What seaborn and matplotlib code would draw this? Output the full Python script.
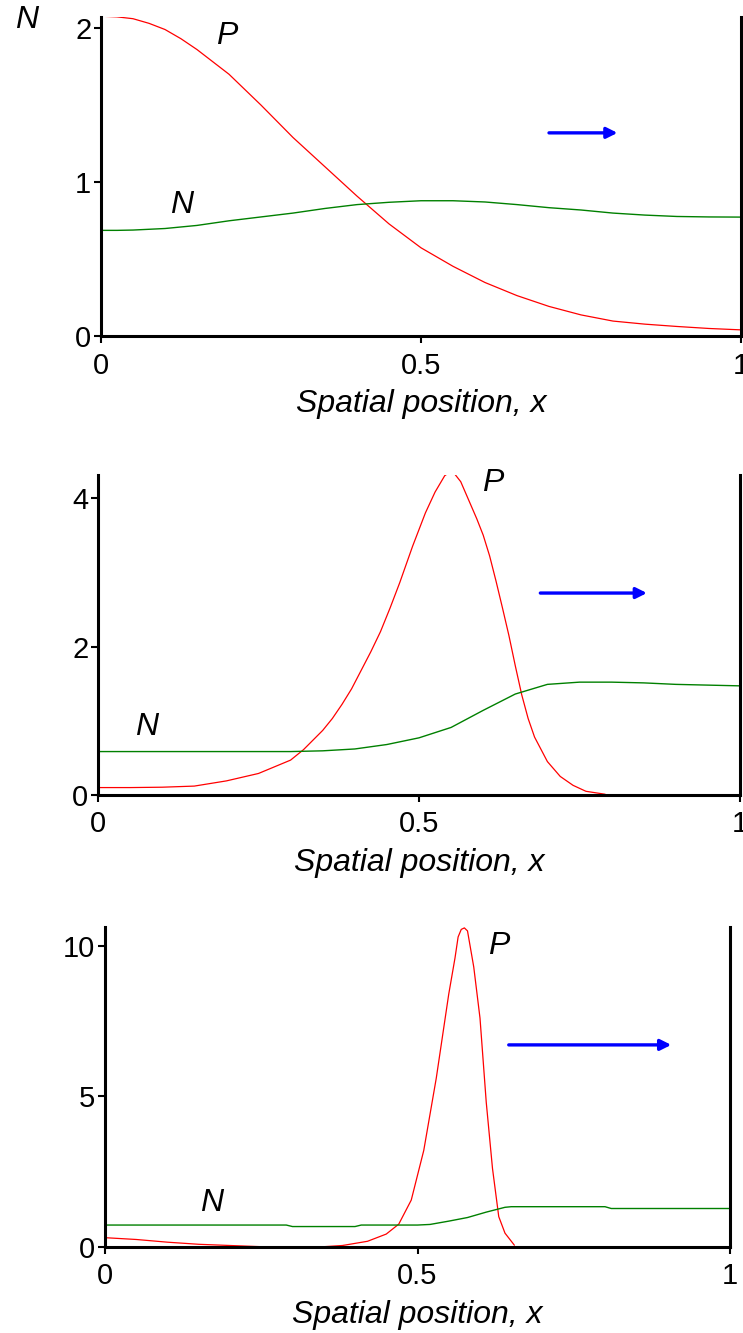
import numpy as np
import pandas as pd
import matplotlib
matplotlib.use('Agg')
import matplotlib.pyplot as plt
import seaborn as sns

# panel 1: early profile
x1 = [0, 0.025, 0.05, 0.075, 0.1, 0.125, 0.15, 0.2, 0.25, 0.3, 0.35, 0.4, 0.45,
      0.5, 0.55, 0.6, 0.65, 0.7, 0.75, 0.8, 0.85, 0.9, 0.95, 1.0]
p1 = [2.076, 2.072, 2.06, 2.03, 1.99, 1.93, 1.86, 1.70, 1.50, 1.29, 1.10, 0.91,
      0.73, 0.575, 0.455, 0.35, 0.265, 0.195, 0.14, 0.10, 0.08, 0.065, 0.052, 0.043]
n1 = [0.688, 0.688, 0.69, 0.695, 0.70, 0.71, 0.72, 0.75, 0.775, 0.80, 0.83,
      0.855, 0.87, 0.88, 0.88, 0.872, 0.855, 0.835, 0.82, 0.80, 0.787, 0.778,
      0.775, 0.774]

# panel 2
xp2 = [0, 0.05, 0.1, 0.15, 0.2, 0.25, 0.3, 0.32, 0.35, 0.365, 0.38, 0.395, 0.41,
       0.425, 0.44, 0.455, 0.47, 0.49, 0.51, 0.525, 0.54, 0.548, 0.555, 0.565,
       0.575, 0.59, 0.6, 0.61, 0.62, 0.63, 0.64, 0.65, 0.66, 0.67, 0.68, 0.7,
       0.72, 0.74, 0.76, 0.79]
p2 = [0.10, 0.10, 0.105, 0.12, 0.19, 0.29, 0.47, 0.61, 0.87, 1.03, 1.22, 1.43,
      1.68, 1.93, 2.20, 2.52, 2.86, 3.35, 3.8, 4.08, 4.3, 4.35, 4.33, 4.22,
      4.02, 3.72, 3.5, 3.22, 2.88, 2.52, 2.15, 1.74, 1.35, 1.03, 0.78, 0.45,
      0.25, 0.13, 0.05, 0.01]
xn2 = [0, 0.1, 0.2, 0.3, 0.35, 0.4, 0.45, 0.5, 0.55, 0.6, 0.65, 0.7, 0.75,
       0.8, 0.85, 0.9, 0.95, 1.0]
n2 = [0.585, 0.585, 0.585, 0.585, 0.595, 0.62, 0.68, 0.77, 0.91, 1.14, 1.36,
      1.49, 1.52, 1.52, 1.51, 1.49, 1.48, 1.47]

# panel 3
xp3 = [0, 0.05, 0.1, 0.15, 0.2, 0.25, 0.3, 0.35, 0.38, 0.42, 0.45, 0.47, 0.49,
       0.51, 0.53, 0.55, 0.56, 0.565, 0.57, 0.575, 0.58, 0.59, 0.6, 0.61, 0.62,
       0.63, 0.64, 0.655]
p3 = [0.30, 0.24, 0.15, 0.08, 0.04, 0.0, 0.0, 0.0, 0.04, 0.18, 0.42, 0.75, 1.55,
      3.2, 5.6, 8.4, 9.6, 10.3, 10.55, 10.6, 10.5, 9.3, 7.6, 4.8, 2.6, 1.0,
      0.45, 0.05]
xn3 = [0, 0.1, 0.2, 0.29, 0.3, 0.4, 0.41, 0.5, 0.52, 0.55, 0.58, 0.61, 0.64,
       0.65, 0.8, 0.81, 1.0]
n3 = [0.72, 0.72, 0.72, 0.72, 0.67, 0.67, 0.72, 0.72, 0.74, 0.85, 0.97, 1.15,
      1.31, 1.33, 1.33, 1.27, 1.27]

yticks = [[0, 1, 2], [0, 2, 4], [0, 5, 10]]
ytop = [2.073, 4.31, 10.64]
label_pos = [((0.196, 1.95), (0.126, 0.85)),
             ((0.615, 4.2), (0.076, 0.92)),
             ((0.63, 10.0), (0.17, 1.44))]
arrows = [(0.70, 0.807, 1.32), (0.689, 0.855, 2.72), (0.646, 0.906, 6.71)]

W, H = 743, 1333
# axes boxes in pixels: left, right, top, bottom
boxes = [(101, 741, 16.7, 336.5), (98, 740, 475, 795), (105, 730, 926.7, 1246.7)]

sns.set_style('ticks')
plt.rcParams['font.family'] = ['Liberation Sans', 'DejaVu Sans']
plt.rcParams['text.color'] = 'black'
plt.rcParams['axes.labelcolor'] = 'black'
plt.rcParams['xtick.color'] = 'black'
plt.rcParams['ytick.color'] = 'black'

fig = plt.figure(figsize=(W / 100, H / 100), dpi=100)

panels = [(x1, p1, x1, n1), (xp2, p2, xn2, n2), (xp3, p3, xn3, n3)]

for i, (xp, p, xn, n) in enumerate(panels):
    l, r, t, b = boxes[i]
    ax = fig.add_axes([l / W, 1 - b / H, (r - l) / W, (b - t) / H])
    sns.lineplot(x=xp, y=p, ax=ax, color='#ff0000', lw=0.9, sort=False)
    sns.lineplot(x=xn, y=n, ax=ax, color='#008000', lw=1.0, sort=False)
    ax.set_xlim(0, 1)
    ax.set_ylim(0, ytop[i])
    ax.set_xticks([0, 0.5, 1])
    ax.set_xticklabels(['0', '0.5', '1'])
    ax.set_yticks(yticks[i])
    ax.set_yticklabels([str(v) for v in yticks[i]])
    ax.tick_params(axis='both', length=5, width=1.5, labelsize=21,
                   colors='black', labelcolor='black')
    ax.tick_params(axis='x', pad=6)
    ax.tick_params(axis='y', pad=2)
    ax.spines['top'].set_visible(False)
    for s in ['left', 'right', 'bottom']:
        ax.spines[s].set_linewidth(2.2)
        ax.spines[s].set_color('black')
    ax.set_xlabel('Spatial position, x', fontsize=23, style='italic',
                  color='black', labelpad=7)
    ax.set_ylabel('')
    (px, py), (nx, ny) = label_pos[i]
    ax.text(px, py, 'P', fontsize=23, style='italic', ha='center', va='center',
            color='black')
    ax.text(nx, ny, 'N', fontsize=23, style='italic', ha='center', va='center',
            color='black')
    a0, a1, ay = arrows[i]
    ax.annotate('', xy=(a1, ay), xytext=(a0, ay),
                arrowprops=dict(arrowstyle='-|>', color='#0000ff', lw=2.4,
                                mutation_scale=16, shrinkA=0, shrinkB=0))
    ax.patch.set_alpha(0)

fig.text(27 / W, 1 - 20 / H, 'N', fontsize=23, style='italic', ha='center',
         va='center', color='black')

fig.savefig('out.png', dpi=100)
